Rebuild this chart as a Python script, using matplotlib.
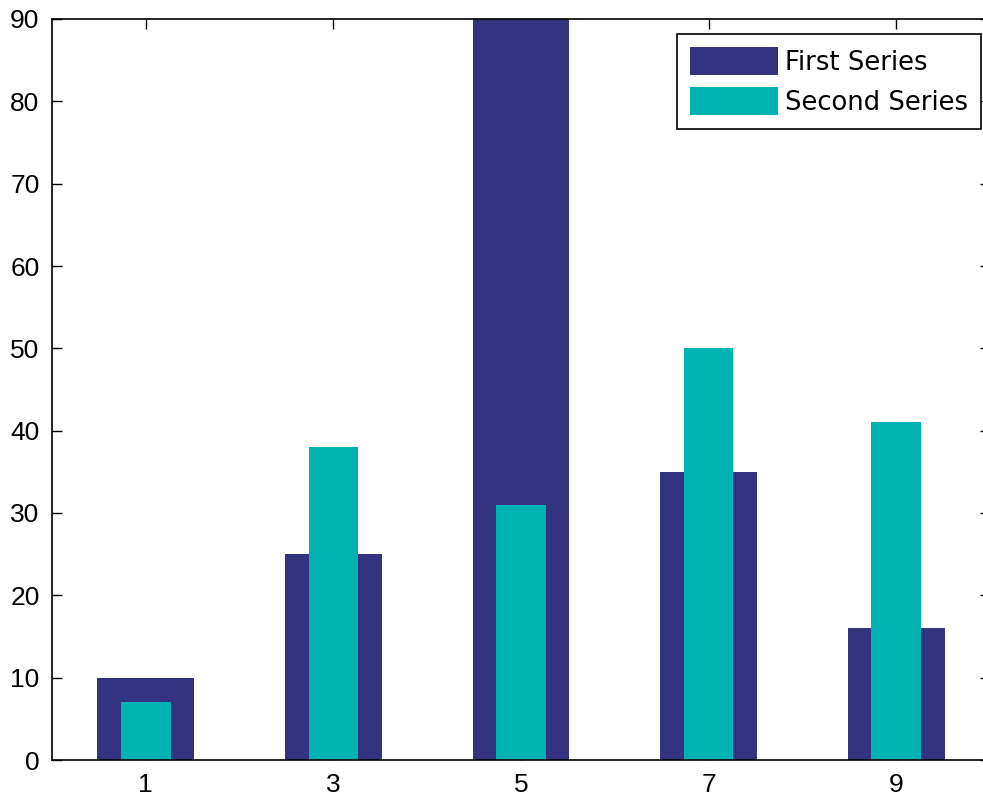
import matplotlib
matplotlib.use("Agg")
import matplotlib.pyplot as plt

x_positions = [1, 3, 5, 7, 9]
first_series = [10, 25, 90, 35, 16]
second_series = [7, 38, 31, 50, 41]
y_ticks = [0, 10, 20, 30, 40, 50, 60, 70, 80, 90]
series_names = ["First Series", "Second Series"]

plt.rcParams['font.family'] = ['Liberation Sans', 'DejaVu Sans']

W, H = 983, 798
fig = plt.figure(figsize=(W / 100, H / 100), dpi=100)
left, right, bottom, top = 52, 990, 38, 779
ax = fig.add_axes([left / W, bottom / H, (right - left) / W, (top - bottom) / H])

ax.bar(x_positions, first_series, width=1.03, color="#333380", edgecolor="none",
       label=series_names[0], zorder=2)
ax.bar(x_positions, second_series, width=0.53, color="#00B3B3", edgecolor="none",
       label=series_names[1], zorder=3)

ax.set_xlim(0, 10)
ax.set_ylim(0, 90)
ax.set_xticks(x_positions)
ax.set_yticks(y_ticks)
ax.tick_params(direction="in", length=7, width=1, top=True, right=True,
               labelsize=19, pad=9, colors="black")
for s in ax.spines.values():
    s.set_linewidth(1.2)
    s.set_color("black")
    s.set_zorder(5)

leg = ax.legend(loc="upper right", bbox_to_anchor=(981 / W, 1 - 34 / H),
                bbox_transform=fig.transFigure,
                prop={'family': ['DejaVu Sans'], 'size': 18.6},
                handlelength=3.4, handleheight=1.3,
                handletextpad=0.28, labelspacing=0.45, borderpad=0.5,
                borderaxespad=0, fancybox=False, framealpha=1)
leg.get_frame().set_edgecolor("black")
leg.get_frame().set_linewidth(1.2)

fig.savefig("out.png", dpi=100)
